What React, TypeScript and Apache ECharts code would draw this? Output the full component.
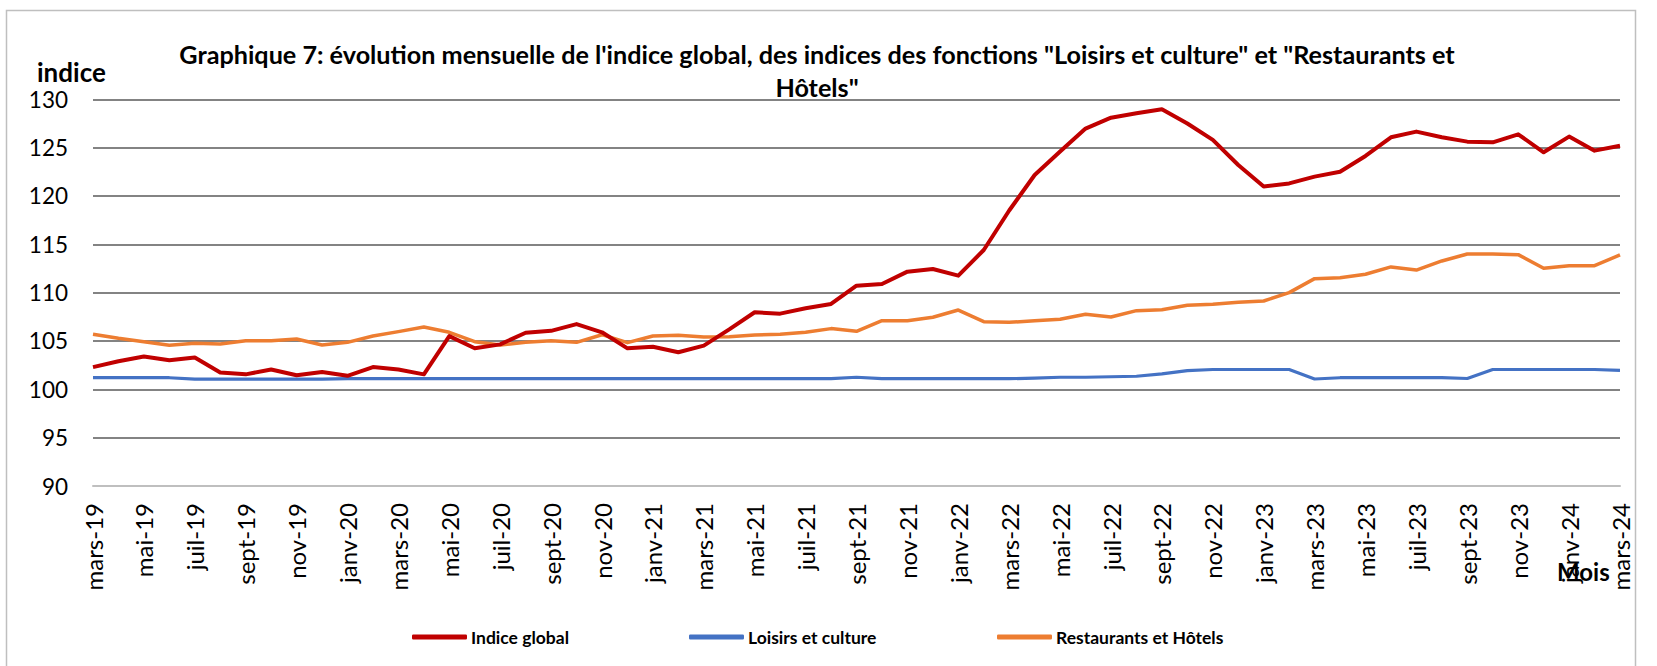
import React, { useEffect, useRef } from "react";
import * as echarts from "echarts";

const months: string[] = [
  "mars-19","avr-19","mai-19","juin-19","juil-19","août-19","sept-19","oct-19","nov-19","déc-19","janv-20","févr-20",
  "mars-20","avr-20","mai-20","juin-20","juil-20","août-20","sept-20","oct-20","nov-20","déc-20","janv-21","févr-21",
  "mars-21","avr-21","mai-21","juin-21","juil-21","août-21","sept-21","oct-21","nov-21","déc-21","janv-22","févr-22",
  "mars-22","avr-22","mai-22","juin-22","juil-22","août-22","sept-22","oct-22","nov-22","déc-22","janv-23","févr-23",
  "mars-23","avr-23","mai-23","juin-23","juil-23","août-23","sept-23","oct-23","nov-23","déc-23","janv-24","févr-24",
  "mars-24",
];

const indiceGlobal: number[] = [
  102.3, 102.9, 103.4, 103.0, 103.3, 101.75, 101.55, 102.05, 101.45, 101.8, 101.4, 102.3,
  102.05, 101.55, 105.5, 104.25, 104.65, 105.85, 106.05, 106.75, 105.9, 104.24, 104.41, 103.83,
  104.52, 106.2, 107.97, 107.83, 108.38, 108.83, 110.72, 110.9, 112.17, 112.45, 111.76, 114.41,
  118.5, 122.17, 124.6, 126.97, 128.1, 128.55, 128.97, 127.5, 125.8, 123.2, 120.97, 121.3,
  122.0, 122.5, 124.14, 126.07, 126.66, 126.07, 125.62, 125.55, 126.38, 124.52, 126.14, 124.69,
  125.2,
];

const loisirsCulture: number[] = [
  101.2, 101.2, 101.2, 101.2, 101.05, 101.05, 101.05, 101.05, 101.05, 101.05, 101.1, 101.1,
  101.1, 101.1, 101.1, 101.1, 101.1, 101.1, 101.1, 101.1, 101.1, 101.1, 101.1, 101.1,
  101.1, 101.1, 101.1, 101.1, 101.1, 101.1, 101.25, 101.1, 101.1, 101.1, 101.1, 101.1,
  101.1, 101.15, 101.25, 101.25, 101.3, 101.35, 101.6, 101.93, 102.05, 102.05, 102.05, 102.05,
  101.07, 101.2, 101.2, 101.2, 101.2, 101.2, 101.12, 102.05, 102.05, 102.05, 102.05, 102.05,
  101.97,
];

const restaurantsHotels: number[] = [
  105.69, 105.28, 104.93, 104.55, 104.76, 104.69, 105.03, 105.03, 105.2, 104.59, 104.86, 105.52,
  105.97, 106.45, 105.9, 104.93, 104.59, 104.86, 105.03, 104.86, 105.65, 104.83, 105.52, 105.59,
  105.41, 105.45, 105.62, 105.69, 105.9, 106.28, 106.0, 107.1, 107.1, 107.45, 108.2, 107.0,
  106.93, 107.1, 107.24, 107.76, 107.48, 108.14, 108.24, 108.69, 108.79, 109.0, 109.14, 110.0,
  111.45, 111.55, 111.9, 112.66, 112.34, 113.28, 114.0, 114.0, 113.93, 112.52, 112.79, 112.79,
  113.9,
];

const seriesNames = ["Indice global", "Loisirs et culture", "Restaurants et Hôtels"];
const seriesColors = ["#C00000", "#4472C4", "#ED7D31"];
const titleLine1 =
  "Graphique 7: évolution mensuelle de l'indice global, des indices des fonctions \"Loisirs et culture\" et \"Restaurants et";
const titleLine2 = "Hôtels\"";
const yAxisTitle = "indice";
const xAxisTitle = "Mois";

const FONT = "Lato, 'Noto Sans', sans-serif";

export default function App() {
  const ref = useRef<HTMLDivElement>(null);
  useEffect(() => {
    document.body.style.margin = "0";
    if (!ref.current) return;
    const chart = echarts.init(ref.current, null, { renderer: "svg" });
    const allData = [indiceGlobal, loisirsCulture, restaurantsHotels];
    const widths = [4, 3.2, 3.5];
    const legendLefts = [412, 689, 997];
    chart.setOption({
      animation: false,
      backgroundColor: "#ffffff",
      textStyle: { fontFamily: FONT },
      grid: { left: 93, right: 37, top: 99.3, bottom: 180, containLabel: false, outerBoundsMode: "none" },
      legend: seriesNames.map((n, i) => ({
        data: [n],
        left: legendLefts[i],
        top: 627,
        icon: "roundRect",
        itemWidth: 55,
        itemHeight: 5,
        itemGap: 4,
        textStyle: { fontFamily: FONT, fontWeight: "bold", fontSize: 17.5, color: "#000", lineHeight: 20, padding: [0, 0, 0, -1] },
        padding: 0,
        selectedMode: false,
      })),
      xAxis: {
        type: "category",
        data: months,
        boundaryGap: false,
        axisLine: { show: true, lineStyle: { color: "#bfbfbf", width: 2 } },
        axisTick: { show: false },
        axisLabel: { interval: 1, rotate: 90, margin: 17, fontSize: 24, color: "#000", fontFamily: FONT },
        splitLine: { show: false },
      },
      yAxis: {
        type: "value",
        min: 90,
        max: 130,
        interval: 5,
        axisLine: { show: false },
        axisTick: { show: false },
        axisLabel: { fontSize: 22.5, color: "#000", margin: 25, fontFamily: FONT },
        splitLine: {
          show: true,
          lineStyle: {
            color: ["#bfbfbf", "#5a5a5a", "#5a5a5a", "#5a5a5a", "#5a5a5a", "#5a5a5a", "#5a5a5a", "#5a5a5a", "#5a5a5a"],
            width: 1.5,
          },
        },
      },
      series: seriesNames.map((n, i) => ({
        name: n,
        type: "line",
        data: allData[i],
        showSymbol: false,
        symbol: "none",
        lineStyle: { color: seriesColors[i], width: widths[i], join: "round" },
        itemStyle: { color: seriesColors[i] },
        z: 3 - i,
      })),
      graphic: [
        {
          type: "rect",
          shape: { x: 6.5, y: 10.5, width: 1629, height: 700 },
          style: { fill: "none", stroke: "#bfbfbf", lineWidth: 1.5 },
          silent: true,
        },
        {
          type: "text",
          x: 817,
          y: 54,
          style: { text: titleLine1, fontFamily: FONT, fontWeight: "bold", fontSize: 25.2, fill: "#000", textAlign: "center", textVerticalAlign: "middle" },
        },
        {
          type: "text",
          x: 817,
          y: 87,
          style: { text: titleLine2, fontFamily: FONT, fontWeight: "bold", fontSize: 25.2, fill: "#000", textAlign: "center", textVerticalAlign: "middle" },
        },
        {
          type: "text",
          x: 37,
          y: 72,
          style: { text: yAxisTitle, fontFamily: FONT, fontWeight: "bold", fontSize: 26, fill: "#000", textAlign: "left", textVerticalAlign: "middle" },
        },
        {
          type: "text",
          x: 1557,
          y: 571,
          style: { text: xAxisTitle, fontFamily: FONT, fontWeight: "bold", fontSize: 24, fill: "#000", textAlign: "left", textVerticalAlign: "middle" },
        },
      ],
    });
    return () => chart.dispose();
  }, []);
  return <div ref={ref} style={{ width: 1657, height: 666 }} />;
}
